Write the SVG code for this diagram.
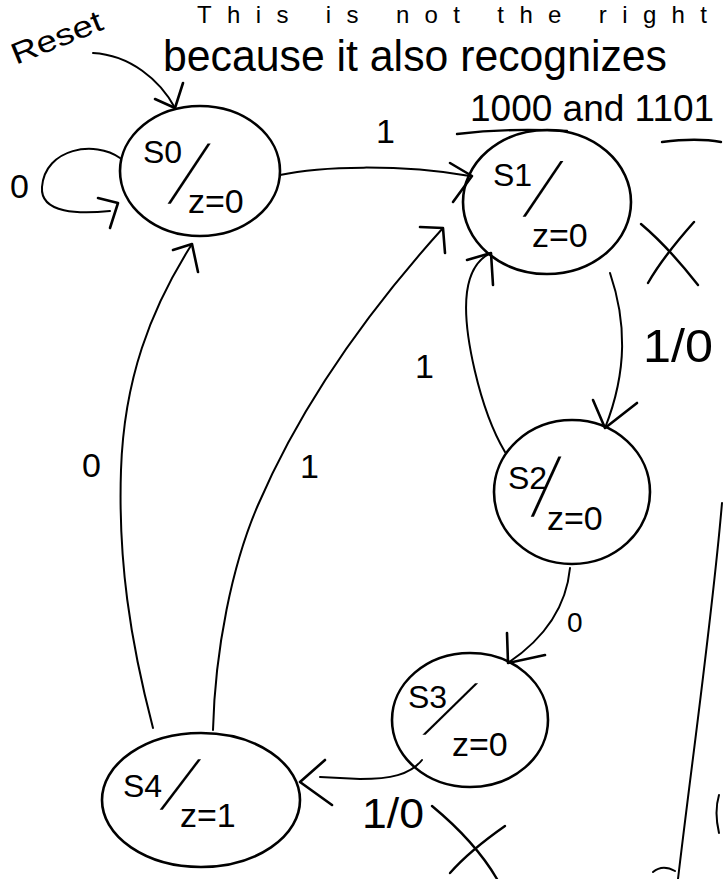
<svg xmlns="http://www.w3.org/2000/svg" width="723" height="879" viewBox="0 0 723 879">
<style>
  .bg { fill: #ffffff; }
  .state { fill: none; stroke: #000; stroke-width: 2.6; }
  .edge { fill: none; stroke: #000; stroke-width: 2; stroke-linecap: round; stroke-linejoin: round; }
  .head { fill: none; stroke: #000; stroke-width: 2.6; stroke-linecap: round; stroke-linejoin: round; }
  .mark { fill: none; stroke: #000; stroke-width: 2.4; stroke-linecap: round; }
  .t { font-family: "Liberation Sans", "DejaVu Sans", sans-serif; fill: #000; }
  .name { font-size: 32px; }
  .out { font-size: 34px; }
  .slash { font-size: 40px; }
  .lbl { font-size: 34px; }
</style>
<rect class="bg" x="0" y="0" width="723" height="879"/>

<g id="title">
  <text class="t" font-size="24" x="197" y="23" textLength="510" lengthAdjust="spacing">This is not the right</text>
  <text class="t" font-size="44" x="163" y="71" textLength="504" lengthAdjust="spacingAndGlyphs">because it also recognizes</text>
  <text class="t" font-size="37" x="470" y="121">1000 and 1101</text>
  <path class="mark" d="M457,134 C490,130 530,129 567,131"/>
  <path class="mark" d="M662,142 C685,139 705,139 721,142"/>
</g>

<g id="reset">
  <text class="t" font-size="30" transform="translate(16,65) rotate(-22)" textLength="96" lengthAdjust="spacingAndGlyphs">Reset</text>
</g>

<g id="S0">
  <ellipse class="state" cx="200" cy="171" rx="80" ry="65"/>
  <text class="t name" x="143" y="163">S0</text>
  <text class="t slash" transform="translate(168,203) skewX(-28) scale(1,2.05)">/</text>
  <text class="t out" x="188" y="213">z=0</text>
</g>

<g id="S1">
  <ellipse class="state" cx="547" cy="202" rx="84" ry="72"/>
  <text class="t name" x="493" y="186">S1</text>
  <text class="t slash" transform="translate(523,216) skewX(-28) scale(1,1.9)">/</text>
  <text class="t out" x="532" y="247">z=0</text>
</g>

<g id="S2">
  <ellipse class="state" cx="572" cy="492" rx="78" ry="72"/>
  <text class="t name" x="508" y="489">S2</text>
  <text class="t slash" transform="translate(531,516) skewX(-18) scale(1,2.05)">/</text>
  <text class="t out" x="547" y="530">z=0</text>
</g>

<g id="S3">
  <ellipse class="state" cx="470" cy="720" rx="78" ry="67"/>
  <text class="t name" x="408" y="708">S3</text>
  <text class="t slash" transform="translate(423,734) skewX(-41) scale(1,1.75)">/</text>
  <text class="t out" x="452" y="756">z=0</text>
</g>

<g id="S4">
  <ellipse class="state" cx="201" cy="800" rx="99" ry="67"/>
  <text class="t name" x="123" y="797">S4</text>
  <text class="t slash" transform="translate(160,809) skewX(-31) scale(1,1.72)">/</text>
  <text class="t out" x="180" y="827">z=1</text>
</g>

<g id="connectors">
  <!-- Reset -->
  <path class="edge" d="M93,53 C130,55 160,80 175,108"/>
  <polyline class="head" points="155,99 175,108 183,83"/>
  <!-- S0 self loop, 0 -->
  <path class="edge" d="M120,158 C95,140 45,148 42,187 C40,214 80,214 110,211"/>
  <polyline class="head" points="98,198 118,203 110,228"/>
  <!-- S0 -> S1, 1 -->
  <path class="edge" d="M280,175 C320,166 400,164 470,176"/>
  <polyline class="head" points="450,163 472,176 453,202"/>
  <!-- S1 -> S2, 1/0 -->
  <path class="edge" d="M610,273 C626,320 628,370 605,428"/>
  <polyline class="head" points="593,400 605,428 637,403"/>
  <!-- S2 -> S1, 1 -->
  <path class="edge" d="M505,452 C480,410 462,330 467,292 C470,270 480,258 491,253"/>
  <polyline class="head" points="467,260 491,253 493,285"/>
  <!-- S2 -> S3, 0 -->
  <path class="edge" d="M570,568 C566,610 542,640 508,663"/>
  <polyline class="head" points="507,633 508,663 545,655"/>
  <!-- S3 -> S4, 1/0 -->
  <path class="edge" d="M422,760 C410,775 390,779 360,779 L320,777"/>
  <polyline class="head" points="325,760 300,782 332,805"/>
  <!-- S4 -> S0, 0 -->
  <path class="edge" d="M153,728 C130,640 118,560 121,470 C124,380 150,310 192,244"/>
  <polyline class="head" points="173,250 192,244 198,272"/>
  <!-- S4 -> S1, 1 -->
  <path class="edge" d="M213,730 C215,650 232,565 258,505 C298,412 360,320 443,228"/>
  <polyline class="head" points="420,227 443,228 445,253"/>
  <!-- right margin line -->
  <path class="edge" d="M722,503 C712,620 692,760 678,879"/>
  <path class="edge" d="M653,872 C660,866 668,867 675,871"/>
  <path class="edge" d="M719,795 C716,805 716,820 719,833"/>
</g>

<g id="labels">
  <text class="t lbl" x="10" y="198">0</text>
  <text class="t lbl" x="376" y="143">1</text>
  <text class="t" font-size="46" x="643" y="362" textLength="70" lengthAdjust="spacingAndGlyphs">1/0</text>
  <text class="t lbl" x="415" y="378">1</text>
  <text class="t" font-size="28" x="567" y="632">0</text>
  <text class="t" font-size="42" x="362" y="828" textLength="62" lengthAdjust="spacingAndGlyphs">1/0</text>
  <text class="t lbl" x="82" y="477">0</text>
  <text class="t lbl" x="300" y="478">1</text>
</g>

<g id="crosses">
  <path class="mark" d="M641,224 C660,240 680,262 698,285"/>
  <path class="mark" d="M694,222 C678,240 660,262 648,283"/>
  <path class="mark" d="M432,806 C455,825 480,850 497,879"/>
  <path class="mark" d="M505,826 C485,840 465,856 450,873"/>
</g>
</svg>
